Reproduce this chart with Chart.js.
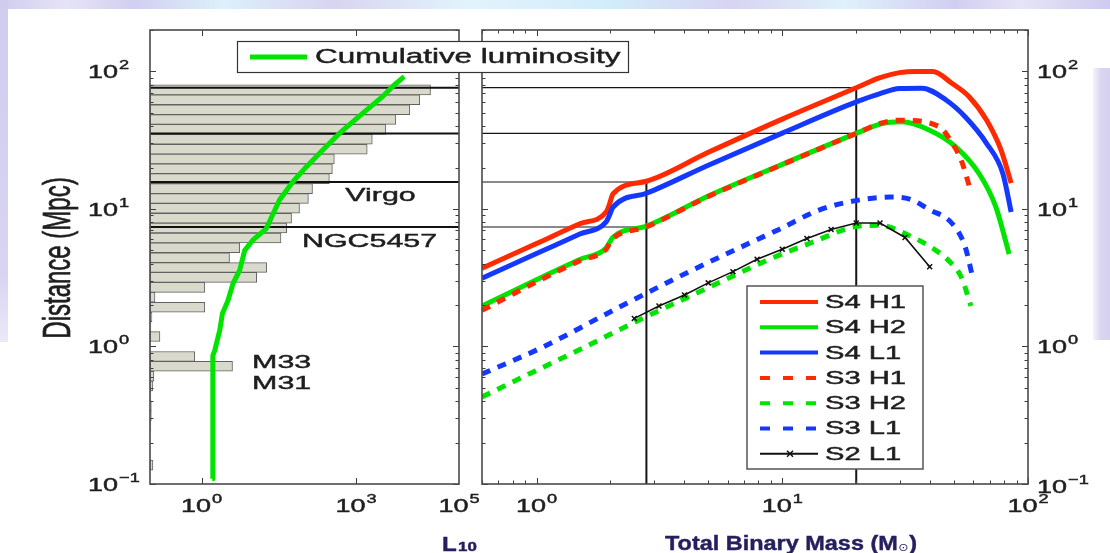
<!DOCTYPE html>
<html>
<head>
<meta charset="utf-8">
<title>Horizon distance vs total binary mass</title>
<script src="https://cdn.jsdelivr.net/npm/chart.js@4.4.0/dist/chart.umd.min.js"></script>
<style>
  html, body { margin: 0; padding: 0; background: #fff; }
  #wrap { position: relative; width: 1110px; height: 553px; overflow: hidden; background: #fff; }
  #wrap canvas { position: absolute; left: 0; top: 0; }
  .band { position: absolute; }
  #bandTop { left: 0; top: 0; width: 1110px; height: 9px;
    background: linear-gradient(90deg, #d0ccef 0%, #e6e4f7 6%, #d2cef0 12%, #dcf0fb 20%, #d8d4f1 30%, #e2f3fc 42%, #d2ecfa 55%, #d8d4f2 66%, #dff1fb 76%, #d2cef1 86%, #e6e4f7 92%, #cecaef 100%); }
  #bandLeft { left: 0; top: 0; width: 8px; height: 342px;
    background: linear-gradient(180deg, #d0ccef, #d8d4f1 80%, #eae9f8); }
  #bandRight { left: 1093px; top: 68px; width: 17px; height: 272px;
    background: linear-gradient(90deg, #f5f4fb, #dad6f1 45%, #d4d0ef); }
</style>
</head>
<body>
<div id="wrap">
  <div class="band" id="bandTop"></div>
  <div class="band" id="bandLeft"></div>
  <div class="band" id="bandRight"></div>
  <canvas id="left" width="1110" height="553"></canvas>
  <canvas id="right" width="1110" height="553"></canvas>
</div>
<script>
// ---- left panel: L10 luminosity per distance bin (Mpc), top bin first ----
const binDist = [73.4, 62.2, 52.7, 44.7, 37.9, 32.1, 27.2, 23.1, 19.6, 16.6,
                 14.05, 11.9, 10.1, 8.56, 7.26, 6.15, 5.21, 4.42, 3.75, 3.18,
                 2.69, 2.28, 1.93, 1.64, 1.39, 1.18, 1.0, 0.846, 0.717, 0.608,
                 0.515, 0.437, 0.37, 0.314, 0.266, 0.225, 0.191, 0.162, 0.137, 0.116];
const binLum = [28000, 17300, 11100, 5940, 3800, 2070, 1650, 380, 348, 304,
                143, 119, 80, 56, 45, 35, 5.5, 3.5, 18.4, 11.8,
                1.16, 0.125, 1.16, 0.109, 0.104, 0.156, 0.102, 0.74, 4.0, 0.119,
                0.114, 0.104, 0.106, 0.106, 0.104, null, null, null, 0.114, null];

// cumulative luminosity curve
const cumLum  = [1.62, 1.66, 1.8, 2.26, 2.55, 3.27, 4.09, 5.5, 6.9, 9.8, 18.1, 32.7, 59, 108, 226, 475, 1343, 3270, 5510, 8610];
const cumDist = [0.109, 0.86, 0.93, 1.31, 1.74, 2.16, 2.87, 3.57, 5.0, 5.9, 7.2, 11.6, 15.7, 20.2, 26.8, 35.4, 49.6, 65.5, 79.7, 91.6];

// reference horizon distances and the total mass each is read at
const refDist = [76.2, 35.4, 15.7, 7.39];
const refMass = [20, 20, 2.8, 2.8];

// ---- right panel: horizon distance (Mpc) vs total binary mass ----
const s4h1Mass = [0.6, 1.0, 1.5, 1.92, 1.97, 2.05, 2.8, 5, 10, 20, 25, 30, 35, 41, 49, 57.6, 67.8, 77.7, 85.4];
const s4h1Dist = [3.7, 5.6, 7.8, 9.5, 10.5, 12.9, 15.9, 25.8, 45, 76, 90, 98, 100, 100, 82, 65.5, 44.3, 26.8, 15.4];
const s4h2Mass = [0.6, 1.0, 1.5, 1.92, 1.97, 2.05, 2.8, 5, 10, 20, 25, 30.6, 39.6, 50.8, 63.2, 73.9, 83.8];
const s4h2Dist = [1.97, 3.06, 4.29, 5.2, 5.6, 6.25, 7.5, 12.4, 21.1, 35.4, 41.4, 43, 37.5, 28.3, 18.1, 10.4, 4.7];
const s4l1Mass = [0.6, 1.0, 1.5, 1.92, 1.97, 2.05, 2.8, 5, 10, 20, 25, 30, 37, 46.4, 55.5, 67.8, 79, 85.4];
const s4l1Dist = [3.13, 4.74, 6.57, 8.05, 8.8, 10.3, 13.0, 20.8, 35.6, 60, 69, 75, 75.5, 62, 46.8, 30, 18.1, 9.5];
const s3h1Mass = [0.6, 1.0, 1.5, 1.92, 1.97, 2.05, 2.8, 5, 10, 20, 25, 30, 43.4, 49.2, 53.5, 58.6];
const s3h1Dist = [1.83, 2.95, 4.2, 5.1, 5.5, 6.1, 7.4, 12.3, 21, 35.4, 41.8, 44.2, 39.7, 30, 22.6, 13.3];
const s3h2Mass = [0.6, 1.0, 1.5, 2.45, 5.05, 8.85, 13.2, 19.6, 24.7, 33.8, 42.2, 47.6, 53.5, 58.6];
const s3h2Dist = [0.43, 0.67, 0.95, 1.47, 2.7, 4.3, 5.7, 7.4, 7.6, 6.25, 5.0, 4.2, 3.2, 1.97];
const s3l1Mass = [0.6, 1.06, 2.11, 4.18, 7.6, 9.7, 14.1, 19.9, 27.4, 33, 39.6, 49.2, 55.5, 59.5];
const s3l1Dist = [0.63, 0.99, 1.88, 3.5, 5.8, 7.1, 9.8, 11.5, 12.2, 11.8, 9.9, 7.8, 5.3, 3.2];
const s2l1Mass = [2.5, 3.15, 4.0, 5.0, 6.3, 7.9, 10, 12.6, 15.8, 20, 25, 31.6, 39.8];
const s2l1Dist = [1.6, 1.97, 2.37, 2.9, 3.5, 4.3, 5.1, 6.1, 7.1, 7.9, 7.9, 6.2, 3.8];

const seriesNames = ['S4 H1', 'S4 H2', 'S4 L1', 'S3 H1', 'S3 H2', 'S3 L1', 'S2 L1'];

// tick label exponents
const distExp = [-1, 0, 1, 2];
const lumExp = [0, 3, 5];
const massExp = [0, 1, 2];

const FONT = '"Liberation Sans", Arial, Helvetica, sans-serif';
const TXT = '#1e1e1e';
const RED = '#ff2a00', GREEN = '#00e400', BLUE = '#1438ff';

const pts = (xs, ys) => xs.map((v, i) => ({ x: v, y: ys[i] }));

// text stretched sideways like in the reference, with a hairline stroke to thicken it a bit
function wideText(ctx, str, x, y, size, sx, align, weight, baseline) {
  ctx.save();
  ctx.font = (weight || 'normal') + ' ' + size + 'px ' + FONT;
  ctx.textBaseline = baseline || 'middle';
  ctx.textAlign = align || 'left';
  ctx.translate(x, y);
  ctx.scale(sx, 1);
  ctx.fillText(str, 0, 0);
  ctx.strokeStyle = ctx.fillStyle;
  ctx.lineWidth = 0.45;
  ctx.strokeText(str, 0, 0);
  ctx.restore();
}

function textWidth(ctx, str, size, weight, family) {
  ctx.save();
  ctx.font = (weight || 'normal') + ' ' + size + 'px ' + (family || FONT);
  const w = ctx.measureText(str).width;
  ctx.restore();
  return w;
}

// "10" with a raised exponent
function powLabel(ctx, exp, x, y, anchor) {
  const e = exp < 0 ? '\u2212' + (-exp) : String(exp);
  const wb = textWidth(ctx, '10', 18) * 1.5;
  const we = textWidth(ctx, e, 13) * 1.4;
  const x0 = anchor === 'center' ? x - (wb + 1 + we) / 2 : x;
  ctx.fillStyle = TXT;
  wideText(ctx, '10', x0, y, 18, 1.5, 'left');
  wideText(ctx, e, x0 + wb + 1, y - 8, 13, 1.4, 'left');
}

function decadeTicks(min, max) {
  const out = [];
  for (let e = Math.floor(Math.log10(min)); e <= Math.ceil(Math.log10(max)); e++) {
    for (let m = 1; m <= 9; m++) {
      const v = m * Math.pow(10, e);
      if (v >= min * 0.999 && v <= max * 1.001) out.push({ v: v, major: m === 1 });
    }
  }
  return out;
}

// matlab style box with inward ticks on all four sides
function drawAxesBox(chart, xMarks) {
  const { ctx, chartArea: a, scales } = chart;
  ctx.save();
  ctx.strokeStyle = '#3c3c3c';
  ctx.lineWidth = 1;
  ctx.beginPath();
  decadeTicks(scales.y.min, scales.y.max).forEach(t => {
    const py = Math.round(scales.y.getPixelForValue(t.v)) + 0.5;
    const len = t.major ? 6 : 3.5;
    ctx.moveTo(a.left, py); ctx.lineTo(a.left + len, py);
    ctx.moveTo(a.right, py); ctx.lineTo(a.right - len, py);
  });
  xMarks.forEach(t => {
    const px = Math.round(scales.x.getPixelForValue(t.v)) + 0.5;
    const len = t.major ? 6 : 3.5;
    ctx.moveTo(px, a.bottom); ctx.lineTo(px, a.bottom - len);
    ctx.moveTo(px, a.top); ctx.lineTo(px, a.top + len);
  });
  ctx.stroke();
  ctx.lineWidth = 1.6;
  ctx.strokeStyle = '#4a4a4a';
  ctx.strokeRect(a.left, a.top, a.right - a.left, a.bottom - a.top);
  ctx.restore();
}

function hiddenScale(extra) {
  return Object.assign({
    type: 'logarithmic',
    offset: false,
    grid: { display: false, offset: false },
    border: { display: false },
    ticks: { display: false }
  }, extra);
}

// ---------------- left chart ----------------
const leftDecor = {
  id: 'leftDecor',
  afterDraw(chart) {
    const { ctx, chartArea: a, scales } = chart;
    drawAxesBox(chart, [{ v: 1, major: true }, { v: 1000, major: true }]);

    distExp.forEach(e => powLabel(ctx, e, a.left - 62, scales.y.getPixelForValue(Math.pow(10, e)) + 2, 'left'));
    lumExp.forEach(e => powLabel(ctx, e, scales.x.getPixelForValue(Math.pow(10, e)), 507, 'center'));

    // axis titles
    ctx.save();
    ctx.fillStyle = TXT;
    ctx.strokeStyle = TXT;
    ctx.lineWidth = 0.45;
    ctx.font = 'normal 24px ' + FONT;
    ctx.textAlign = 'center';
    ctx.textBaseline = 'alphabetic';
    ctx.translate(70, 258);
    ctx.scale(1.6, 1);
    ctx.rotate(-Math.PI / 2);
    ctx.fillText('Distance (Mpc)', 0, 0);
    ctx.strokeText('Distance (Mpc)', 0, 0);
    ctx.restore();

    ctx.fillStyle = '#251f5e';
    wideText(ctx, 'L', 442, 551, 21, 1.15, 'left', 'bold', 'alphabetic');
    wideText(ctx, '10', 458, 551, 13, 1.3, 'left', 'bold', 'alphabetic');

    // galaxy labels
    ctx.fillStyle = TXT;
    wideText(ctx, 'Virgo', scales.x.getPixelForValue(3000), scales.y.getPixelForValue(12.4), 19, 1.6, 'center');
    wideText(ctx, 'NGC5457', scales.x.getPixelForValue(1830), scales.y.getPixelForValue(5.74), 19, 1.6, 'center');
    wideText(ctx, 'M33', scales.x.getPixelForValue(9.6), scales.y.getPixelForValue(0.76), 19, 1.6, 'left');
    wideText(ctx, 'M31', scales.x.getPixelForValue(9.6), scales.y.getPixelForValue(0.54), 19, 1.6, 'left');
  }
};

new Chart(document.getElementById('left'), {
  type: 'line',
  data: {
    datasets: [
      {
        type: 'bar',
        indexAxis: 'y',
        label: 'L10 per bin',
        data: pts(binLum, binDist),
        backgroundColor: '#d9d9cc',
        borderColor: '#626262',
        borderWidth: 1,
        borderSkipped: false,
        barThickness: 'flex',
        barPercentage: 1,
        categoryPercentage: 1,
        order: 3
      },
      ...refDist.map(d => ({
        label: 'range',
        data: [{ x: 0.1, y: d }, { x: 1e5, y: d }],
        borderColor: '#111',
        borderWidth: 2,
        pointRadius: 0,
        order: 2
      })),
      {
        label: 'Cumulative luminosity',
        data: pts(cumLum, cumDist),
        borderColor: GREEN,
        borderWidth: 5,
        borderJoinStyle: 'round',
        pointRadius: 0,
        order: 1
      }
    ]
  },
  options: {
    responsive: false,
    animation: false,
    events: [],
    layout: { autoPadding: false, padding: { left: 0, top: 30, right: 651, bottom: 0 } },
    plugins: { legend: { display: false }, tooltip: { enabled: false } },
    scales: {
      x: hiddenScale({ min: 0.1, max: 1e5, afterFit: s => { s.height = 69; } }),
      y: hiddenScale({ min: 0.1, max: 200, afterFit: s => { s.width = 150; } })
    }
  },
  plugins: [leftDecor]
});

// ---------------- right chart ----------------
const rightDecor = {
  id: 'rightDecor',
  afterDraw(chart) {
    const { ctx, chartArea: a, scales } = chart;
    drawAxesBox(chart, decadeTicks(scales.x.min, scales.x.max));

    distExp.forEach(e => powLabel(ctx, e, a.right + 9, scales.y.getPixelForValue(Math.pow(10, e)) + (e < 0 ? 4 : 2), 'left'));
    massExp.forEach(e => powLabel(ctx, e, scales.x.getPixelForValue(Math.pow(10, e)), 507, 'center'));

    // x title with solar-mass symbol
    const p1 = 'Total Binary Mass (M', p2 = '\u2299', p3 = ')';
    const w1 = textWidth(ctx, p1, 21, 'bold');
    const w2 = textWidth(ctx, p2, 11, 'normal', '"DejaVu Sans", sans-serif');
    const w3 = textWidth(ctx, p3, 21, 'bold');
    const sx = 252 / (w1 + w2 + w3 + 1);
    ctx.fillStyle = '#251f5e';
    wideText(ctx, p1, 665, 550, 21, sx, 'left', 'bold', 'alphabetic');
    ctx.save();
    ctx.font = 'normal 11px "DejaVu Sans", sans-serif';
    ctx.textBaseline = 'alphabetic';
    ctx.translate(665 + w1 * sx + 0.5, 551);
    ctx.scale(sx, 1);
    ctx.fillText(p2, 0, 0);
    ctx.restore();
    wideText(ctx, p3, 665 + (w1 + w2 + 1) * sx, 550, 21, sx, 'left', 'bold', 'alphabetic');

    // series legend
    const box = { l: 747, t: 286, r: 923, b: 469 };
    ctx.save();
    ctx.fillStyle = '#fff';
    ctx.fillRect(box.l, box.t, box.r - box.l, box.b - box.t);
    ctx.strokeStyle = '#555';
    ctx.lineWidth = 1.5;
    ctx.strokeRect(box.l, box.t, box.r - box.l, box.b - box.t);
    chart.data.datasets.slice(0, seriesNames.length).forEach((ds, i) => {
      const y = 302 + i * 25.3;
      ctx.save();
      ctx.strokeStyle = ds.borderColor;
      ctx.lineWidth = ds.pointStyle ? 2 : 4;
      ctx.setLineDash(ds.borderDash ? [10, 13] : []);
      ctx.beginPath();
      ctx.moveTo(760, y);
      ctx.lineTo(818, y);
      ctx.stroke();
      if (ds.pointStyle) {
        ctx.setLineDash([]);
        ctx.lineWidth = 1.5;
        ctx.beginPath();
        ctx.moveTo(787, y - 3); ctx.lineTo(793, y + 3);
        ctx.moveTo(787, y + 3); ctx.lineTo(793, y - 3);
        ctx.stroke();
      }
      ctx.restore();
      ctx.fillStyle = TXT;
      wideText(ctx, ds.label, 825, y + 1, 18, 1.62, 'left');
    });
    ctx.restore();

    // cumulative luminosity legend, spans both panels
    ctx.save();
    ctx.fillStyle = '#fff';
    ctx.fillRect(237, 41, 391, 31);
    ctx.strokeStyle = '#333';
    ctx.lineWidth = 1.2;
    ctx.strokeRect(237.5, 41.5, 391, 31);
    ctx.strokeStyle = GREEN;
    ctx.lineWidth = 5;
    ctx.beginPath();
    ctx.moveTo(250, 57);
    ctx.lineTo(307, 57);
    ctx.stroke();
    ctx.fillStyle = TXT;
    wideText(ctx, 'Cumulative luminosity', 315, 57, 20, 1.57, 'left');
    ctx.restore();
  }
};

function curve(label, xs, ys, color, dashed, order) {
  return {
    label: label,
    data: pts(xs, ys),
    borderColor: color,
    borderWidth: 5,
    borderDash: dashed ? [9, 8] : undefined,
    borderJoinStyle: 'round',
    cubicInterpolationMode: 'monotone',
    pointRadius: 0,
    order: order
  };
}

const refLines = refDist.map((d, i) => ({
  label: 'range',
  data: [{ x: 0.6, y: d }, { x: refMass[i], y: d }],
  borderColor: '#151515',
  borderWidth: 1.2,
  pointRadius: 0,
  order: 10
})).concat([0, 2].map(i => ({
  label: 'range',
  data: [{ x: refMass[i], y: refDist[i] }, { x: refMass[i], y: 0.1 }],
  borderColor: '#151515',
  borderWidth: 2,
  pointRadius: 0,
  order: 10
})));

new Chart(document.getElementById('right'), {
  type: 'line',
  data: {
    datasets: [
      curve(seriesNames[0], s4h1Mass, s4h1Dist, RED, false, 7),
      curve(seriesNames[1], s4h2Mass, s4h2Dist, GREEN, false, 6),
      curve(seriesNames[2], s4l1Mass, s4l1Dist, BLUE, false, 5),
      curve(seriesNames[3], s3h1Mass, s3h1Dist, RED, true, 4),
      curve(seriesNames[4], s3h2Mass, s3h2Dist, GREEN, true, 3),
      curve(seriesNames[5], s3l1Mass, s3l1Dist, BLUE, true, 2),
      {
        label: seriesNames[6],
        data: pts(s2l1Mass, s2l1Dist),
        borderColor: '#111',
        borderWidth: 1.6,
        pointStyle: 'crossRot',
        pointRadius: 3.5,
        pointBorderWidth: 1.5,
        pointBorderColor: '#111',
        order: 1
      },
      ...refLines
    ]
  },
  options: {
    responsive: false,
    animation: false,
    events: [],
    layout: { autoPadding: false, padding: { left: 482, top: 30, right: 0, bottom: 0 } },
    plugins: { legend: { display: false }, tooltip: { enabled: false } },
    scales: {
      x: hiddenScale({ min: 0.6, max: 100, afterFit: s => { s.height = 69; } }),
      y: hiddenScale({ min: 0.1, max: 200, position: 'right', afterFit: s => { s.width = 82; } })
    }
  },
  plugins: [rightDecor]
});
</script>
</body>
</html>
